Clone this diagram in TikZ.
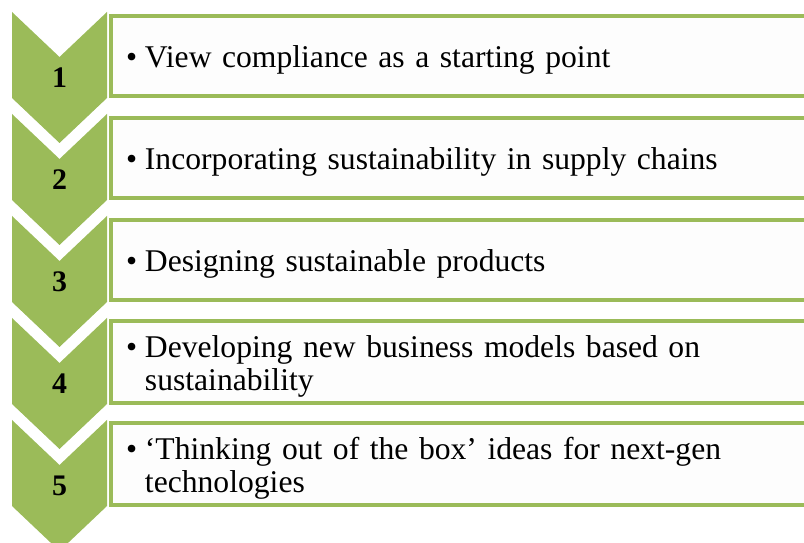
\documentclass[tikz,border=0pt]{standalone}
\usepackage{fontspec}
\setmainfont{Liberation Serif}
\usepackage{tikz}
\usetikzlibrary{positioning}
\definecolor{olive}{RGB}{155, 187, 89}
\definecolor{boxwhite}{RGB}{253, 253, 253}

\newcommand{\itemfont}{\fontsize{18pt}{18.7pt}\selectfont\setlength{\lineskiplimit}{-10pt}}
\tikzset{
    chevron/.style={fill=olive, preaction={draw=white, line width=0.44cm, line join=round}},
    itembox/.style={rectangle, draw=olive, line width=2.3pt, fill=boxwhite, anchor=west,
        minimum height=1.6cm, inner xsep=0.3cm, text width=13.4cm, align=left,
        font=\itemfont},
    stepnum/.style={font=\fontsize{17pt}{17.6pt}\selectfont\bfseries},
}
\newcommand{\bul}{\rule{0pt}{17.5pt}\makebox[0.6em][l]{\textbullet}}
\newcommand{\hang}{\hspace*{0.6em}}

\begin{document}
\begin{tikzpicture}[x=0.02cm, y=-0.02cm]
    \useasboundingbox (0,0) rectangle (804,543);

    % chevrons
    \path[chevron] (12,12) -- (59.5,57) -- (107,12) -- (107,98) -- (59.5,143) -- (12,98) -- cycle;
    \path[chevron] (12,114) -- (59.5,159) -- (107,114) -- (107,200) -- (59.5,245) -- (12,200) -- cycle;
    \path[chevron] (12,216) -- (59.5,261) -- (107,216) -- (107,302) -- (59.5,347) -- (12,302) -- cycle;
    \path[chevron] (12,318) -- (59.5,363) -- (107,318) -- (107,404) -- (59.5,449) -- (12,404) -- cycle;
    \path[chevron] (12,420) -- (59.5,465) -- (107,420) -- (107,506) -- (59.5,551) -- (12,506) -- cycle;

    % step numbers
    \node[stepnum] (n1) at (59.5,78) {1};
    \node[stepnum] (n2) at (59.5,180) {2};
    \node[stepnum] (n3) at (59.5,282) {3};
    \node[stepnum] (n4) at (59.5,384) {4};
    \node[stepnum] (n5) at (59.5,486) {5};

    % item boxes
    \node[itembox] (b1) at (109,56) {\bul View compliance as a starting point};
    \node[itembox] (b2) at (109,158) {\bul Incorporating sustainability in supply chains};
    \node[itembox] (b3) at (109,260) {\bul Designing sustainable products};
    \node[itembox] (b4) at (109,362) {\bul Developing new business models based on\\\hang sustainability};
    \node[itembox] (b5) at (109,464) {\bul ‘Thinking out of the box’\ ideas for next-gen\\\hang technologies};
\end{tikzpicture}
\end{document}
